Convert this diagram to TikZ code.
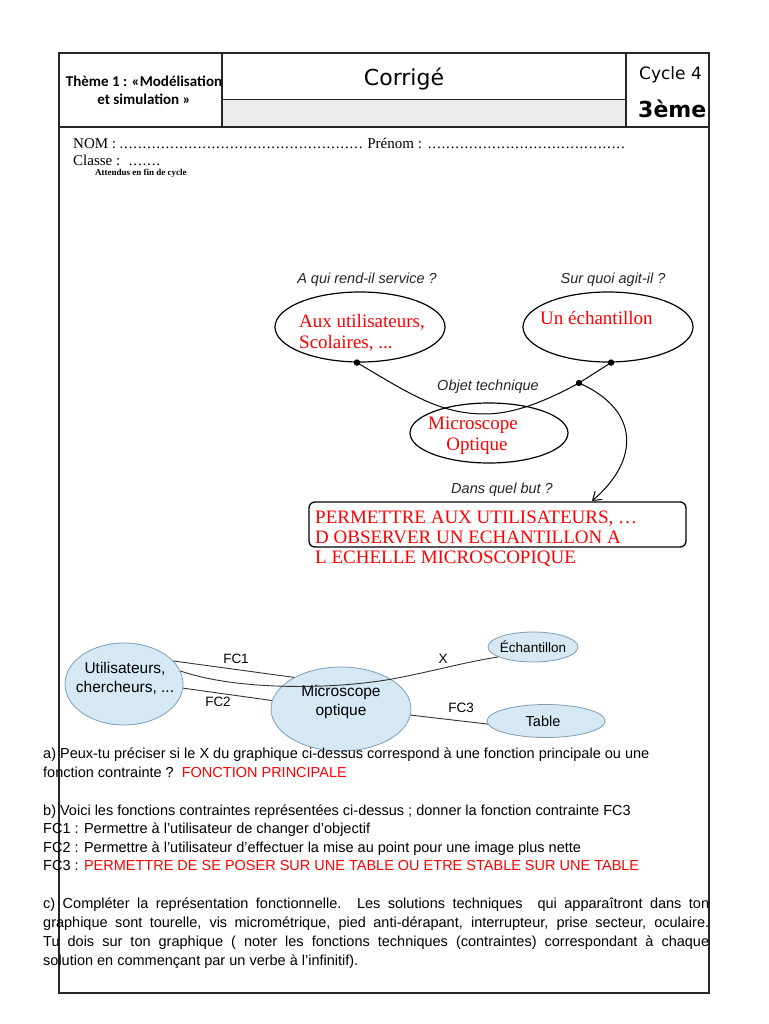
\documentclass[tikz,border=0pt]{standalone}
\usepackage{fontspec}
\setmainfont{Liberation Serif}
\newfontfamily\arialf{Liberation Sans}
\newfontfamily\dejavu{DejaVu Sans}
\newfontfamily\carlito{Carlito}
\usetikzlibrary{shapes.geometric,arrows.meta}
\definecolor{fillblue}{HTML}{D5E8F4}
\definecolor{bordblue}{HTML}{7F9DB5}
\definecolor{hdrgray}{HTML}{EBEBEB}
\definecolor{linegray}{HTML}{333333}
\newcommand{\dotrun}[1]{\leaders\hbox to 4.6pt{\hss.\hss}\hskip #1pt\relax\kern0pt\null}
\tikzset{
  frameline/.style={draw=black!85, line width=1.3pt},
  bigell/.style={ellipse, draw=black, line width=1.2pt, inner sep=0},
  blueell/.style={ellipse, draw=bordblue, fill=fillblue, line width=0.8pt, inner sep=0},
  redtxt/.style={text=red, font=\fontsize{19}{22}\selectfont, inner sep=0, anchor=base west},
  qlab/.style={font=\arialf\itshape\fontsize{14.5}{17}\selectfont, inner sep=0, anchor=base, text=black!85},
  sanslbl/.style={font=\arialf\fontsize{15.5}{19}\selectfont, inner sep=0, align=center},
  fclab/.style={font=\arialf\fontsize{13.5}{16}\selectfont, inner sep=0},
  qline/.style={font=\arialf\fontsize{14.5}{19}\selectfont, inner sep=0, anchor=base west},
  conn/.style={draw=black, line width=1pt},
  thinconn/.style={draw=linegray, line width=0.9pt},
}
\begin{document}
\begin{tikzpicture}[x=1pt,y=-1pt]
\useasboundingbox[fill=white] (0,0) rectangle (768,1024);

% ---------- header frame ----------
\fill[hdrgray] (222,99) rectangle (626,127);
\draw[frameline] (59,53) rectangle (709,993);
\draw[frameline] (59,127) -- (709,127);
\draw[frameline] (222,53) -- (222,127);
\draw[frameline] (626,53) -- (626,127);
\draw[draw=black!85, line width=0.9pt] (222,99) -- (626,99);

\node[font=\carlito\bfseries\fontsize{15}{17}\selectfont, inner sep=0, anchor=base] (theme1) at (144,87) {Thème 1 : «Modélisation};
\node[font=\carlito\bfseries\fontsize{15}{17}\selectfont, inner sep=0, anchor=base] (theme2) at (144,105) {et simulation »};
\node[font=\dejavu\fontsize{22}{26}\selectfont, inner sep=0, anchor=base] (corr) at (404,86) {Corrigé};
\node[font=\dejavu\fontsize{17}{20}\selectfont, inner sep=0, anchor=base west] (cyc) at (639,80) {Cycle 4};
\node[font=\dejavu\bfseries\fontsize{22}{26}\selectfont, inner sep=0, anchor=base west] (niv) at (638,118) {3ème};

\node[font=\fontsize{15}{18}\selectfont, inner sep=0, anchor=base west] (nom) at (73,149) {NOM :\,\dotrun{245}\ Prénom : \dotrun{200}};
\node[font=\fontsize{15}{18}\selectfont, inner sep=0, anchor=base west] (cls) at (73,166) {Classe : \dotrun{37}};
\node[font=\bfseries\fontsize{9}{10}\selectfont, inner sep=0, anchor=base west] (att) at (95,176) {Attendus en fin de cycle};

% ---------- bete a cornes ----------
\node[bigell, minimum width=170, minimum height=70] (e1) at (360,327) {};
\node[bigell, minimum width=170, minimum height=70] (e2) at (608,327) {};
\node[bigell, minimum width=158, minimum height=60] (e3) at (489,433) {};

\node[qlab] (q1) at (367,283) {A qui rend-il service ?};
\node[qlab] (q2) at (613,283) {Sur quoi agit-il ?};
\node[qlab] (q3) at (488,390) {Objet technique};
\node[qlab] (q4) at (502,493) {Dans quel but ?};

\node[redtxt] (t1a) at (299,327) {Aux utilisateurs,};
\node[redtxt] (t1b) at (299,348) {Scolaires, ...};
\node[redtxt] (t2) at (540,324) {Un échantillon};
\node[redtxt, anchor=base] (t3a) at (473,429) {Microscope};
\node[redtxt, anchor=base] (t3b) at (477,450) {Optique};

\coordinate (d1) at (e1.265);
\coordinate (d2) at (e2.275);
\coordinate (d3) at (579,383);
\draw[conn] (d1) .. controls (410,394) and (440,414) .. (485,414)
            .. controls (515,414) and (548,400) .. (d3) -- (d2);
\fill (d1) circle (3.2pt);
\fill (d2) circle (3.2pt);
\fill (d3) circle (3.2pt);

\node[draw=black, line width=1.3pt, rounded corners=6pt, minimum width=377, minimum height=45, inner sep=0] (goal) at (497.5,524.5) {};
\coordinate (tip) at (592,501);
\draw[conn, -{Straight Barb[length=8pt, width=11pt]}] (d3) .. controls (640,410) and (640,460) .. (tip);

\node[redtxt] (g1) at (315,523) {PERMETTRE AUX UTILISATEURS, …};
\node[redtxt] (g2) at (315,543) {D OBSERVER UN ECHANTILLON A};
\node[redtxt] (g3) at (315,563) {L ECHELLE MICROSCOPIQUE};

% ---------- graphe des interacteurs ----------
\node[blueell, minimum width=118, minimum height=82] (u) at (124,684) {};
\node[blueell, minimum width=140, minimum height=84] (m) at (341,709) {};
\node[blueell, minimum width=90, minimum height=30] (ech) at (533,647) {};
\node[blueell, minimum width=118, minimum height=33] (tab) at (546,721) {};

\node[sanslbl] (ut) at (125,678) {Utilisateurs,\\chercheurs, ...};
\node[sanslbl] (mt) at (341,702) {Microscope\\optique};
\node[font=\arialf\fontsize{13.5}{16}\selectfont, inner sep=0] (et) at (533,647) {Échantillon};
\node[font=\arialf\fontsize{14.5}{17}\selectfont, inner sep=0] (tt) at (543,721) {Table};

\draw[thinconn] (u.25) -- (m.146);
\draw[thinconn] (u.-4) -- (m.173);
\draw[thinconn] (m.-5) -- (tab.183);
\draw[thinconn] (u.13) .. controls (235,690) and (330,690) .. (392,679)
                .. controls (430,672) and (465,662) .. (ech.196);

\node[fclab] (fc1) at (236,659) {FC1};
\node[fclab] (fc2) at (218,702) {FC2};
\node[fclab] (fc3) at (461,708) {FC3};
\node[fclab] (xl) at (443,659) {X};

% ---------- questions ----------
\node[qline] (a1) at (43,758.5) {a) Peux-tu préciser si le X du graphique ci-dessus correspond à une fonction principale ou une};
\node[qline] (a2) at (43,777.5) {fonction contrainte ?\ \ \textcolor{red}{FONCTION PRINCIPALE}};
\node[qline] (b1) at (43,815.5) {b) Voici les fonctions contraintes représentées ci-dessus ; donner la fonction contrainte FC3};
\node[qline] (b2) at (43,833.5) {FC1 : Permettre à l’utilisateur de changer d’objectif};
\node[qline] (b3) at (43,852.5) {FC2 : Permettre à l’utilisateur d’effectuer la mise au point pour une image plus nette};
\node[qline] (b4) at (43,870.5) {FC3 : \textcolor{red}{PERMETTRE DE SE POSER SUR UNE TABLE OU ETRE STABLE SUR UNE TABLE}};
\node[qline] (c1) at (43,908.5) {\makebox[666pt][s]{c) Compléter la représentation fonctionnelle. Les solutions techniques\ \ qui apparaîtront dans ton}};
\node[qline] (c2) at (43,927.5) {\makebox[666pt][s]{graphique sont tourelle, vis micrométrique, pied anti-dérapant, interrupteur, prise secteur, oculaire.}};
\node[qline] (c3) at (43,946.5) {\makebox[666pt][s]{Tu dois sur ton graphique ( noter les fonctions techniques (contraintes) correspondant à chaque}};
\node[qline] (c4) at (43,965.5) {solution en commençant par un verbe à l’infinitif).};
\end{tikzpicture}
\end{document}
